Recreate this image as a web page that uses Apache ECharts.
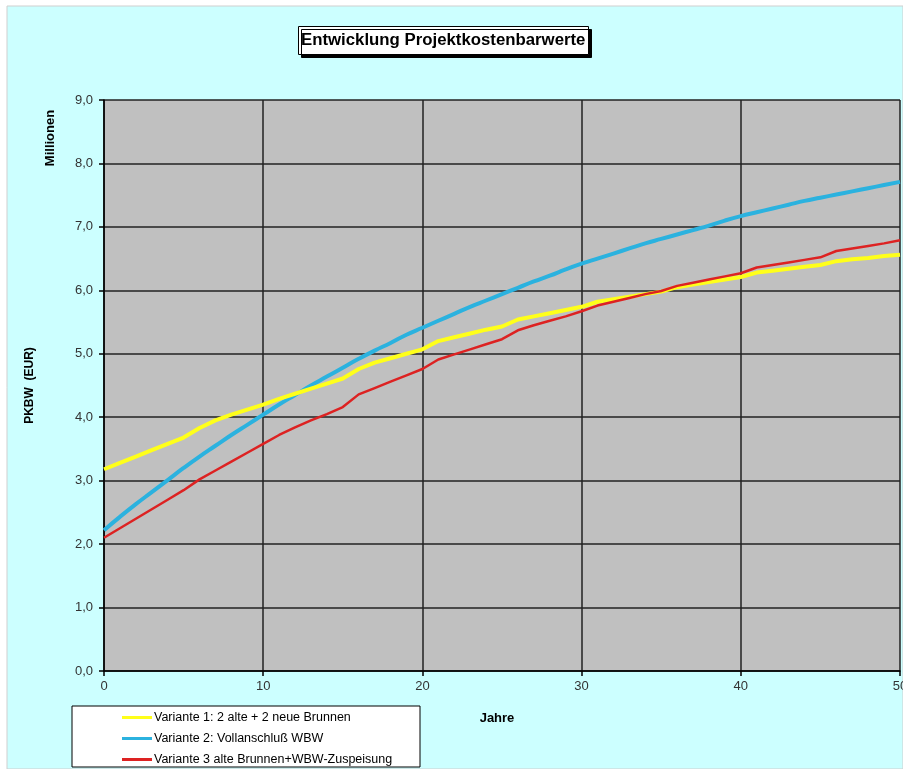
<!DOCTYPE html>
<html>
<head>
<meta charset="utf-8">
<script src="https://cdn.jsdelivr.net/npm/echarts@6/dist/echarts.min.js"></script>
<style>html,body{margin:0;padding:0;background:#fff}#c{width:903px;height:769px}</style>
</head>
<body>
<div id="c"></div>
<script>
const years = [0,1,2,3,4,5,6,7,8,9,10,11,12,13,14,15,16,17,18,19,20,21,22,23,24,25,26,27,28,29,30,31,32,33,34,35,36,37,38,39,40,41,42,43,44,45,46,47,48,49,50];
const variante1 = [3.18,3.28,3.38,3.48,3.58,3.68,3.83,3.95,4.04,4.12,4.20,4.29,4.37,4.45,4.53,4.61,4.76,4.86,4.93,5.00,5.07,5.20,5.26,5.32,5.38,5.43,5.54,5.59,5.64,5.69,5.74,5.82,5.86,5.90,5.94,5.98,6.05,6.09,6.13,6.17,6.21,6.28,6.31,6.34,6.37,6.40,6.46,6.49,6.51,6.54,6.56];
const variante2 = [2.22,2.43,2.63,2.82,3.01,3.20,3.38,3.55,3.72,3.88,4.04,4.20,4.35,4.50,4.64,4.78,4.92,5.05,5.17,5.30,5.41,5.52,5.63,5.74,5.84,5.94,6.04,6.14,6.23,6.33,6.42,6.50,6.58,6.66,6.74,6.81,6.88,6.95,7.02,7.10,7.17,7.23,7.29,7.35,7.41,7.46,7.51,7.56,7.61,7.66,7.71];
const variante3 = [2.10,2.25,2.40,2.55,2.70,2.85,3.02,3.16,3.30,3.44,3.58,3.72,3.84,3.95,4.05,4.16,4.36,4.46,4.56,4.66,4.76,4.91,4.99,5.07,5.15,5.23,5.37,5.45,5.52,5.59,5.67,5.76,5.82,5.88,5.94,5.99,6.07,6.12,6.17,6.22,6.27,6.36,6.40,6.44,6.48,6.52,6.62,6.66,6.70,6.74,6.79];
const seriesNames = ['Variante 1: 2 alte + 2 neue Brunnen','Variante 2: Vollanschluß WBW','Variante 3 alte Brunnen+WBW-Zuspeisung'];
const titleText = 'Entwicklung Projektkostenbarwerte';
const yAxisName = 'PKBW  (EUR)';
const yUnit = 'Millionen';
const xAxisName = 'Jahre';

const pairs = arr => years.map((y,i)=>[y,arr[i]]);
const chart = echarts.init(document.getElementById('c'));
const font = 'Arial, "Liberation Sans", sans-serif';
chart.setOption({
  backgroundColor: '#ffffff',
  animation: false,
  title: {
    text: titleText,
    left: 298, top: 26,
    backgroundColor: '#ffffff',
    borderColor: '#000', borderWidth: 1,
    padding: [6, 3, 6, 3],
    shadowColor: '#000', shadowOffsetX: 3, shadowOffsetY: 3, shadowBlur: 0,
    textStyle: {fontFamily: font, fontSize: 16.8, fontWeight: 'bold', color: '#000'}
  },
  graphic: [
    {type:'rect', z:-10, shape:{x:7,y:6,width:896,height:763}, style:{fill:'#CCFFFF', stroke:'#cfcfcf', lineWidth:1}},
    {type:'rect', z:10, shape:{x:72,y:706,width:348,height:61}, style:{fill:'#ffffff', stroke:'#000', lineWidth:1}},
    {type:'text', z:11, x:50, y:138, rotation: Math.PI/2, style:{text:yUnit, fill:'#000', font:'bold 13px Arial, "Liberation Sans", sans-serif', align:'center', verticalAlign:'middle'}},
    {type:'text', z:11, x:497, y:718, style:{text:xAxisName, fill:'#000', font:'bold 13px Arial, "Liberation Sans", sans-serif', align:'center', verticalAlign:'middle'}}
  ],
  legend: {
    orient: 'vertical', left: 122, top: 711, z: 12,
    icon: 'rect',
    itemWidth: 30, itemHeight: 3, itemGap: 8,
    padding: 0,
    textStyle: {fontFamily: font, fontSize: 12.5, color: '#000', padding:[0,0,0,-3], lineHeight: 13},
    data: seriesNames
  },
  grid: {left: 104, right: 3, top: 100, bottom: 98, show: true, backgroundColor: '#C0C0C0', borderWidth: 0, containLabel: false, outerBoundsMode: 'none'},
  xAxis: {
    type: 'value', min: 0, max: 50, interval: 10,
    axisLine: {show: true, onZero: false, lineStyle: {color: '#000', width: 1.5}},
    axisTick: {show: true, length: 5, lineStyle: {color: '#000', width: 1.5}},
    axisLabel: {color: '#333', fontFamily: font, fontSize: 13, margin: 9},
    splitLine: {show: true, lineStyle: {color: '#222', width: 1.5}}
  },
  yAxis: {
    type: 'value', min: 0, max: 9, interval: 1,
    name: yAxisName, nameLocation: 'middle', nameGap: 68, nameRotate: 90,
    nameTextStyle: {fontFamily: font, fontSize: 12, fontWeight: 'bold', color: '#000'},
    axisLine: {show: true, lineStyle: {color: '#000', width: 1.5}},
    axisTick: {show: true, length: 5, lineStyle: {color: '#000', width: 1.5}},
    axisLabel: {color: '#333', fontFamily: font, fontSize: 13, margin: 11, formatter: v => v.toFixed(1).replace('.', ',')},
    splitLine: {show: true, lineStyle: {color: '#222', width: 1.5}}
  },
  series: [
    {name: seriesNames[0], type: 'line', data: pairs(variante1), symbol: 'none', z: 3, lineStyle: {color: '#FFFF1A', width: 4}, itemStyle: {color: '#FFFF1A'}},
    {name: seriesNames[1], type: 'line', data: pairs(variante2), symbol: 'none', smooth: true, z: 2, lineStyle: {color: '#2BB2DF', width: 4}, itemStyle: {color: '#2BB2DF'}},
    {name: seriesNames[2], type: 'line', data: pairs(variante3), symbol: 'none', z: 4, lineStyle: {color: '#DD2222', width: 2.5}, itemStyle: {color: '#DD2222'}}
  ]
});
</script>
</body>
</html>
